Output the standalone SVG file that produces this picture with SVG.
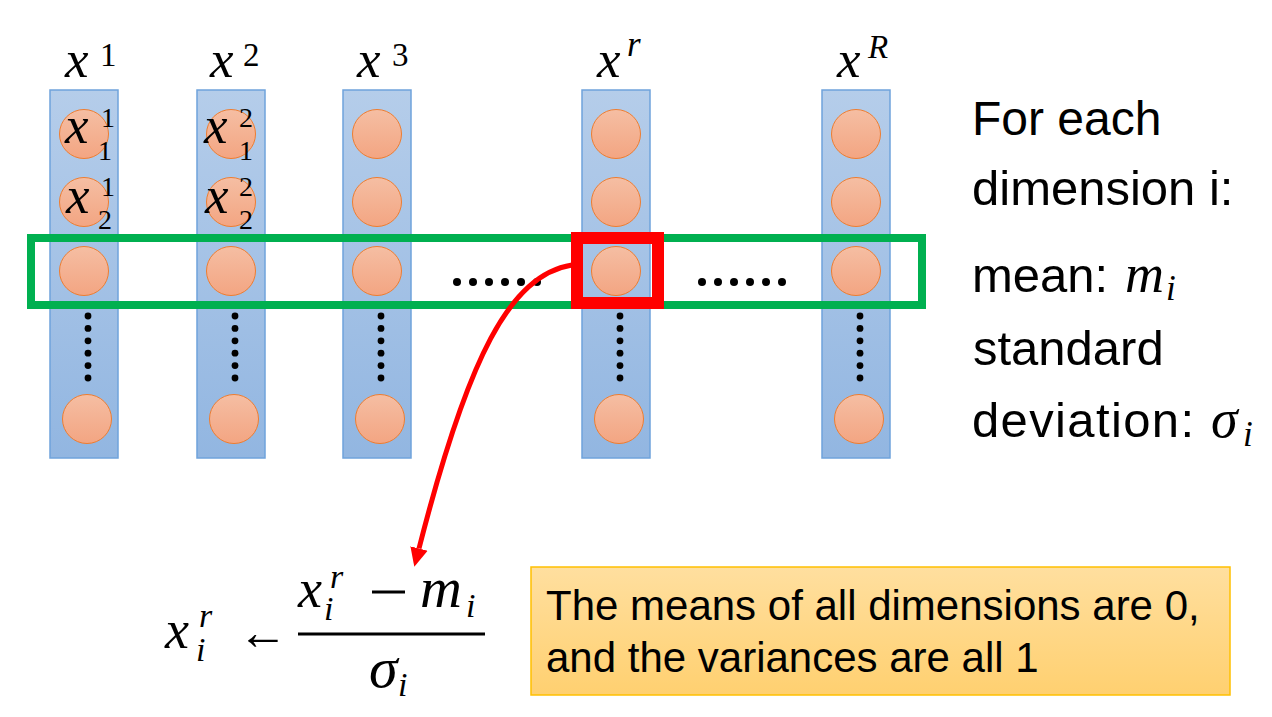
<svg xmlns="http://www.w3.org/2000/svg" width="1272" height="717" viewBox="0 0 1272 717">
  <defs>
    <linearGradient id="colGrad" x1="0" y1="0" x2="0" y2="1">
      <stop offset="0" stop-color="#B5CDEA"/>
      <stop offset="1" stop-color="#92B6E1"/>
    </linearGradient>
    <linearGradient id="cirGrad" x1="0" y1="0" x2="0" y2="1">
      <stop offset="0" stop-color="#F5BEA3"/>
      <stop offset="1" stop-color="#F3A582"/>
    </linearGradient>
    <linearGradient id="boxGrad" x1="0" y1="0" x2="0" y2="1">
      <stop offset="0" stop-color="#FFDF9F"/>
      <stop offset="1" stop-color="#FFD070"/>
    </linearGradient>
    <marker id="redHead" markerUnits="userSpaceOnUse" markerWidth="20" markerHeight="20" refX="0" refY="8" orient="auto" viewBox="0 0 18 16">
      <path d="M0,0 L17,8 L0,16 z" fill="#FF0000"/>
    </marker>
    <style>
      .col { fill: url(#colGrad); stroke: #6FA3DB; stroke-width: 1.5; }
      .cir { fill: url(#cirGrad); stroke: #ED7D31; stroke-width: 1; }
      .dot { fill: #000; }
      .mi { font-family: "Liberation Serif", "DejaVu Serif", serif; font-style: italic; fill: #000; }
      .up { font-style: normal; }
      .txt { font-family: "Liberation Sans", Arial, sans-serif; fill: #000; }
    </style>
  </defs>

  <!-- column 1 -->
  <g id="col-x1">
    <rect class="col" x="50" y="90" width="68" height="368"/>
    <circle class="cir" cx="84" cy="134" r="24.5"/>
    <circle class="cir" cx="84" cy="202" r="24.5"/>
    <circle class="cir" cx="84" cy="271" r="24.5"/>
    <circle class="cir" cx="87" cy="419" r="24.5"/>
    <g class="dot">
      <circle cx="88" cy="316" r="3.4"/><circle cx="88" cy="328.4" r="3.4"/><circle cx="88" cy="340.8" r="3.4"/>
      <circle cx="88" cy="353.2" r="3.4"/><circle cx="88" cy="365.6" r="3.4"/><circle cx="88" cy="378" r="3.4"/>
    </g>
    <text class="mi" font-size="53"><tspan x="65" y="77">x</tspan><tspan class="up" x="100" y="66" font-size="33">1</tspan></text>
    <text class="mi" font-size="53"><tspan x="65" y="143">x</tspan><tspan class="up" x="101" y="127" font-size="28">1</tspan><tspan class="up" x="98" y="160" font-size="28">1</tspan></text>
    <text class="mi" font-size="53"><tspan x="66" y="213">x</tspan><tspan class="up" x="101" y="196" font-size="28">1</tspan><tspan class="up" x="98" y="229" font-size="28">2</tspan></text>
  </g>

  <!-- column 2 -->
  <g id="col-x2">
    <rect class="col" x="197" y="90" width="68" height="368"/>
    <circle class="cir" cx="231" cy="134" r="24.5"/>
    <circle class="cir" cx="231" cy="202" r="24.5"/>
    <circle class="cir" cx="231" cy="271" r="24.5"/>
    <circle class="cir" cx="234" cy="419" r="24.5"/>
    <g class="dot">
      <circle cx="235" cy="316" r="3.4"/><circle cx="235" cy="328.4" r="3.4"/><circle cx="235" cy="340.8" r="3.4"/>
      <circle cx="235" cy="353.2" r="3.4"/><circle cx="235" cy="365.6" r="3.4"/><circle cx="235" cy="378" r="3.4"/>
    </g>
    <text class="mi" font-size="53"><tspan x="210" y="77">x</tspan><tspan class="up" x="243" y="66" font-size="33">2</tspan></text>
    <text class="mi" font-size="53"><tspan x="204" y="143">x</tspan><tspan class="up" x="239" y="127" font-size="28">2</tspan><tspan class="up" x="239" y="160" font-size="28">1</tspan></text>
    <text class="mi" font-size="53"><tspan x="205" y="213">x</tspan><tspan class="up" x="239" y="196" font-size="28">2</tspan><tspan class="up" x="239" y="229" font-size="28">2</tspan></text>
  </g>

  <!-- column 3 -->
  <g id="col-x3">
    <rect class="col" x="343" y="90" width="68" height="368"/>
    <circle class="cir" cx="377" cy="134" r="24.5"/>
    <circle class="cir" cx="377" cy="202" r="24.5"/>
    <circle class="cir" cx="377" cy="271" r="24.5"/>
    <circle class="cir" cx="380" cy="419" r="24.5"/>
    <g class="dot">
      <circle cx="381" cy="316" r="3.4"/><circle cx="381" cy="328.4" r="3.4"/><circle cx="381" cy="340.8" r="3.4"/>
      <circle cx="381" cy="353.2" r="3.4"/><circle cx="381" cy="365.6" r="3.4"/><circle cx="381" cy="378" r="3.4"/>
    </g>
    <text class="mi" font-size="53"><tspan x="357" y="77">x</tspan><tspan class="up" x="392" y="66" font-size="33">3</tspan></text>
  </g>

  <!-- column r -->
  <g id="col-xr">
    <rect class="col" x="582" y="90" width="68" height="368"/>
    <circle class="cir" cx="616" cy="134" r="24.5"/>
    <circle class="cir" cx="616" cy="202" r="24.5"/>
    <circle class="cir" cx="616" cy="271" r="24.5"/>
    <circle class="cir" cx="619" cy="419" r="24.5"/>
    <g class="dot">
      <circle cx="620" cy="316" r="3.4"/><circle cx="620" cy="328.4" r="3.4"/><circle cx="620" cy="340.8" r="3.4"/>
      <circle cx="620" cy="353.2" r="3.4"/><circle cx="620" cy="365.6" r="3.4"/><circle cx="620" cy="378" r="3.4"/>
    </g>
    <text class="mi" font-size="53"><tspan x="597" y="77">x</tspan><tspan x="627" y="56" font-size="35">r</tspan></text>
  </g>

  <!-- column R -->
  <g id="col-xR">
    <rect class="col" x="822" y="90" width="68" height="368"/>
    <circle class="cir" cx="856" cy="134" r="24.5"/>
    <circle class="cir" cx="856" cy="202" r="24.5"/>
    <circle class="cir" cx="856" cy="271" r="24.5"/>
    <circle class="cir" cx="859" cy="419" r="24.5"/>
    <g class="dot">
      <circle cx="860" cy="316" r="3.4"/><circle cx="860" cy="328.4" r="3.4"/><circle cx="860" cy="340.8" r="3.4"/>
      <circle cx="860" cy="353.2" r="3.4"/><circle cx="860" cy="365.6" r="3.4"/><circle cx="860" cy="378" r="3.4"/>
    </g>
    <text class="mi" font-size="53"><tspan x="837" y="77">x</tspan><tspan x="868" y="58" font-size="33">R</tspan></text>
  </g>

  <!-- dimension i row highlight -->
  <g id="row-highlight">
    <rect x="31" y="238" width="891" height="67" fill="none" stroke="#00B050" stroke-width="8"/>
    <g class="dot">
      <circle cx="457" cy="282" r="4"/><circle cx="473" cy="282" r="4"/><circle cx="489" cy="282" r="4"/>
      <circle cx="505" cy="282" r="4"/><circle cx="521" cy="282" r="4"/><circle cx="537" cy="282" r="4"/>
      <circle cx="702" cy="282" r="4"/><circle cx="718" cy="282" r="4"/><circle cx="734" cy="282" r="4"/>
      <circle cx="750" cy="282" r="4"/><circle cx="766" cy="282" r="4"/><circle cx="782" cy="282" r="4"/>
    </g>
  </g>

  <g id="selected-element">
    <rect x="577" y="238" width="81" height="65" fill="none" stroke="#FF0000" stroke-width="12"/>
  </g>

  <g id="connectors">
    <path d="M572,265 C510,275 468,357 419,548.5" fill="none" stroke="#FF0000" stroke-width="5" marker-end="url(#redHead)"/>
  </g>

  <!-- right side text -->
  <g id="legend">
    <text class="txt" x="972" y="135" font-size="48">For each</text>
    <text class="txt" x="972" y="205" font-size="49">dimension i:</text>
    <text class="txt" font-size="49"><tspan x="972" y="292">mean:</tspan><tspan class="mi" x="1125" y="292" font-size="54">m</tspan><tspan class="mi" x="1166" y="300" font-size="35">i</tspan></text>
    <text class="txt" x="973" y="365" font-size="49">standard</text>
    <text class="txt" font-size="49"><tspan x="972" y="437" textLength="222" lengthAdjust="spacing">deviation:</tspan><tspan class="mi" x="1211" y="437" font-size="54">σ</tspan><tspan class="mi" x="1243" y="446" font-size="35">i</tspan></text>
  </g>

  <!-- formula -->
  <g id="formula">
    <text class="mi" font-size="54"><tspan x="165" y="648">x</tspan><tspan x="199" y="627" font-size="34">r</tspan><tspan x="196" y="661" font-size="34">i</tspan></text>
    <text x="238" y="649" font-size="50" font-family="Liberation Serif, DejaVu Serif, serif">←</text>
    <line x1="298" y1="634" x2="485" y2="634" stroke="#000" stroke-width="3"/>
    <text class="mi" font-size="54"><tspan x="298" y="607">x</tspan><tspan x="330" y="588" font-size="34">r</tspan><tspan x="324" y="620" font-size="34">i</tspan></text>
    <line x1="372" y1="592" x2="405" y2="592" stroke="#000" stroke-width="3"/>
    <text class="mi" font-size="58"><tspan x="420" y="607">m</tspan><tspan x="466" y="617" font-size="34">i</tspan></text>
    <text class="mi" font-size="58"><tspan x="369" y="687">σ</tspan><tspan x="398" y="696" font-size="34">i</tspan></text>
  </g>

  <!-- note box -->
  <g id="note">
    <rect x="531" y="567" width="699" height="128" fill="url(#boxGrad)" stroke="#FFC000" stroke-width="1.5"/>
    <text class="txt" x="546" y="620" font-size="42">The means of all dimensions are 0,</text>
    <text class="txt" x="546" y="672" font-size="42">and the variances are all 1</text>
  </g>
</svg>
